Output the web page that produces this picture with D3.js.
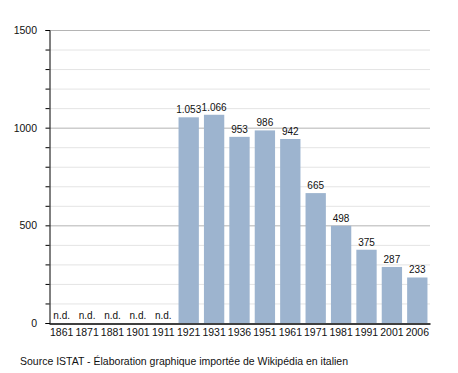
<!DOCTYPE html>
<html>
<head>
<meta charset="utf-8">
<script src="https://cdn.jsdelivr.net/npm/d3@7"></script>
<style>
  body { margin: 0; background: #fff; }
  text { font-family: "Liberation Sans", Arial, sans-serif; }
</style>
</head>
<body>
<svg id="chart"></svg>
<script>
// 数据
const years = ["1861", "1871", "1881", "1901", "1911", "1921", "1931", "1936", "1951", "1961", "1971", "1981", "1991", "2001", "2006"];
const population = [null, null, null, null, null, 1053, 1066, 953, 986, 942, 665, 498, 375, 287, 233];
const valueLabels = ["n.d.", "n.d.", "n.d.", "n.d.", "n.d.", "1.053", "1.066", "953", "986", "942", "665", "498", "375", "287", "233"];
const yTicks = [0, 500, 1000, 1500];
const sourceText = "Source ISTAT - Élaboration graphique importée de Wikipédia en italien";

const width = 458;
const height = 373;
const margin = { top: 30, right: 28, bottom: 50, left: 49 };

const svg = d3.select("#chart")
    .attr("width", width)
    .attr("height", height);

const x = d3.scaleBand()
    .domain(years)
    .range([margin.left, width - margin.right])
    .paddingInner(0.2)
    .paddingOuter(0.1);

const y = d3.scaleLinear()
    .domain([0, 1500])
    .range([height - margin.bottom, margin.top]);

// 网格线
svg.append("g")
    .selectAll("line")
    .data(d3.range(100, 1501, 100))
    .enter()
    .append("line")
    .attr("x1", margin.left)
    .attr("x2", width - margin.right)
    .attr("y1", d => y(d) + 0.5)
    .attr("y2", d => y(d) + 0.5)
    .attr("stroke", d => d % 500 === 0 ? "#b4b4b4" : "#e4e4e4")
    .attr("stroke-width", 1);

// 柱子
svg.append("g")
    .selectAll("rect")
    .data(years.map((d, i) => ({ year: d, value: population[i] })).filter(d => d.value !== null))
    .enter()
    .append("rect")
    .attr("x", d => x(d.year))
    .attr("y", d => y(d.value))
    .attr("width", x.bandwidth())
    .attr("height", d => y(0) - y(d.value))
    .attr("fill", "#9db4cf");

// 数值标签
svg.append("g")
    .selectAll("text")
    .data(years.map((d, i) => ({ year: d, value: population[i], label: valueLabels[i] })))
    .enter()
    .append("text")
    .attr("x", d => x(d.year) + x.bandwidth() / 2)
    .attr("y", d => (d.value === null ? y(0) : y(d.value)) - 4)
    .attr("text-anchor", "middle")
    .attr("font-size", "10px")
    .attr("fill", "#111")
    .text(d => d.label);

// y 轴
const yAxis = svg.append("g")
    .attr("transform", `translate(${margin.left + 0.5},0)`)
    .call(d3.axisLeft(y).tickValues(d3.range(0, 1501, 100)).tickSize(4).tickFormat(""));
yAxis.select(".domain").attr("stroke", "#000");
yAxis.selectAll(".tick line").attr("stroke", "#000");

svg.append("g")
    .selectAll("text")
    .data(yTicks)
    .enter()
    .append("text")
    .attr("x", margin.left - 12)
    .attr("y", d => y(d) + 4)
    .attr("text-anchor", "end")
    .attr("font-size", "10.5px")
    .attr("fill", "#111")
    .text(d => d);

// x 轴
const xAxis = svg.append("g")
    .attr("transform", `translate(0,${y(0) + 0.5})`)
    .call(d3.axisBottom(x).tickSize(0).tickPadding(5));
xAxis.select(".domain").attr("stroke", "#000").attr("stroke-width", 1.5);
xAxis.selectAll("text")
    .attr("font-family", "Liberation Sans, Arial, sans-serif")
    .attr("font-size", "10.5px")
    .attr("fill", "#111");

// 来源
svg.append("text")
    .attr("x", 20)
    .attr("y", 365)
    .attr("font-size", "10.5px")
    .attr("fill", "#111")
    .text(sourceText);
</script>
</body>
</html>
